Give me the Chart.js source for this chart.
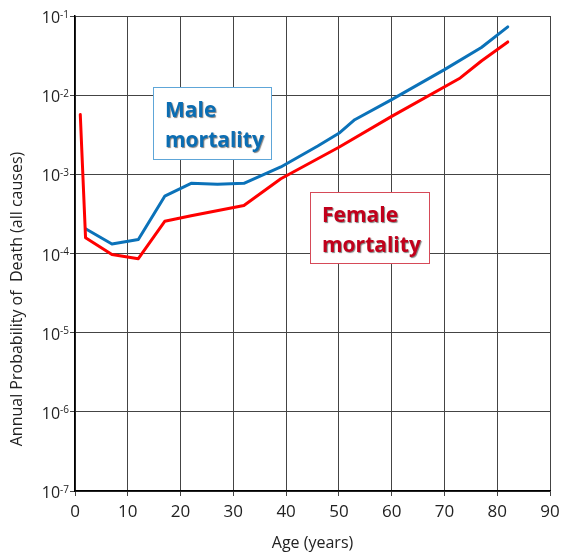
<!DOCTYPE html>
<html>
<head>
<meta charset="utf-8">
<script src="https://cdn.jsdelivr.net/npm/chart.js@4.4.1/dist/chart.umd.min.js"></script>
<style>
  html, body { margin: 0; padding: 0; background: #fff; }
  #wrap { width: 561px; height: 554px; position: relative; }
</style>
</head>
<body>
<div id="wrap"><canvas id="mortalityChart"></canvas></div>
<script>
// data
const maleAges = [2, 7, 12, 17, 22, 27, 32, 39, 46, 50, 53, 60, 70, 77, 82];
const maleRates = [2.05e-4, 1.32e-4, 1.5e-4, 5.3e-4, 7.7e-4, 7.5e-4, 7.7e-4, 1.24e-3, 2.28e-3, 3.3e-3, 4.9e-3, 8.8e-3, 2.1e-2, 4.0e-2, 7.3e-2];
const femaleAges = [1, 2, 7, 12, 17, 22, 32, 39, 50, 60, 73, 77, 82];
const femaleRates = [5.7e-3, 1.58e-4, 9.7e-5, 8.6e-5, 2.55e-4, 3.0e-4, 4.05e-4, 8.8e-4, 2.2e-3, 5.4e-3, 1.65e-2, 2.7e-2, 4.7e-2];
const yExponents = [-7, -6, -5, -4, -3, -2, -1];
const xTitle = 'Age (years)';
const yTitle = 'Annual Probability of  Death (all causes)';

const FONT = '"Open Sans", "DejaVu Sans", sans-serif';

function toPoints(xs, ys) {
	return xs.map((x, i) => ({ x: x, y: ys[i] }));
}

// y tick labels as 10 with superscript, y title and the two label boxes
const extrasPlugin = {
	id: 'extras',
	afterDraw(chart) {
		const ctx = chart.ctx;
		const yScale = chart.scales.y;
		ctx.save();
		ctx.fillStyle = '#222';
		yExponents.forEach(e => {
			const y = yScale.getPixelForValue(Math.pow(10, e));
			ctx.font = '10px ' + FONT;
			const exp = String(e);
			const ew = ctx.measureText(exp).width;
			const x0 = 69 - ew;
			ctx.textAlign = 'left';
			ctx.textBaseline = 'alphabetic';
			ctx.fillText(exp, x0, y + 1.5);
			ctx.font = '16px ' + FONT;
			ctx.textAlign = 'right';
			ctx.fillText('10', x0, y + 7);
		});

		// rotated y title
		ctx.translate(17, 299);
		ctx.rotate(-Math.PI / 2);
		ctx.font = '16px ' + FONT;
		ctx.textAlign = 'center';
		ctx.textBaseline = 'middle';
		ctx.fillText(yTitle, 0, 0);
		ctx.restore();

		drawBox(ctx, 153.5, 87.5, 118, 72, '#5ea6d8', '#0a6db3', ['Male', 'mortality']);
		drawBox(ctx, 310.5, 192.5, 119, 71, '#d64a58', '#c2001b', ['Female', 'mortality']);
	}
};

function drawBox(ctx, x, y, w, h, border, color, lines) {
	ctx.save();
	ctx.fillStyle = '#fff';
	ctx.fillRect(x, y, w, h);
	ctx.strokeStyle = border;
	ctx.lineWidth = 1;
	ctx.strokeRect(x, y, w, h);
	ctx.font = 'bold 21px ' + FONT;
	ctx.fillStyle = color;
	ctx.textAlign = 'left';
	ctx.textBaseline = 'alphabetic';
	ctx.shadowColor = 'rgba(0,0,0,0.5)';
	ctx.shadowOffsetX = 1;
	ctx.shadowOffsetY = 1;
	ctx.shadowBlur = 1;
	ctx.fillText(lines[0], x + 11.5, y + 29.5);
	ctx.fillText(lines[1], x + 11.5, y + 59.5);
	ctx.restore();
}

const ctx = document.getElementById('mortalityChart').getContext('2d');
const myChart = new Chart(ctx, {
	type: 'line',
	data: {
		datasets: [{
			label: 'Female mortality',
			data: toPoints(femaleAges, femaleRates),
			borderColor: '#ff0000',
			borderWidth: 3,
			pointRadius: 0,
			tension: 0,
			borderJoinStyle: 'round',
			borderCapStyle: 'round'
		}, {
			label: 'Male mortality',
			data: toPoints(maleAges, maleRates),
			borderColor: '#0b72b9',
			borderWidth: 3,
			pointRadius: 0,
			tension: 0,
			borderJoinStyle: 'round',
			borderCapStyle: 'round'
		}]
	},
	options: {
		responsive: true,
		maintainAspectRatio: false,
		animation: false,
		layout: {
			padding: { top: 16, right: 11, left: 0, bottom: 0 }
		},
		plugins: {
			legend: { display: false },
			tooltip: { enabled: false }
		},
		scales: {
			x: {
				type: 'linear',
				min: 0,
				max: 90,
				ticks: {
					stepSize: 10,
					color: '#222',
					font: { family: FONT, size: 17 },
					padding: 6,
					maxRotation: 0
				},
				grid: { color: '#444', lineWidth: 1, tickLength: 5 },
				border: { color: '#000', width: 1.5 },
				title: {
					display: true,
					text: xTitle,
					color: '#222',
					font: { family: FONT, size: 16 },
					padding: { top: 0, bottom: 1 }
				},
				afterFit(scale) {
					scale.height = 63;
					scale.paddingLeft = 0;
					scale.paddingRight = 0;
				}
			},
			y: {
				type: 'logarithmic',
				min: 1e-7,
				max: 1e-1,
				ticks: { display: false },
				grid: { color: '#444', lineWidth: 1, tickLength: 5 },
				border: { color: '#000', width: 1.5 },
				afterBuildTicks(scale) {
					scale.ticks = yExponents.map(e => ({ value: Math.pow(10, e) }));
				},
				afterFit(scale) { scale.width = 75; }
			}
		}
	},
	plugins: [extrasPlugin]
});
</script>
</body>
</html>
